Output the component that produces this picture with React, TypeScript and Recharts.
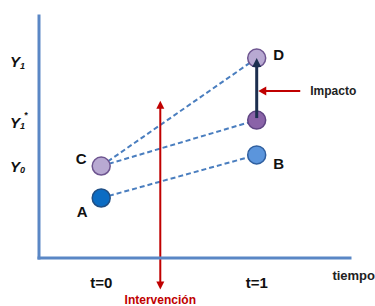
import React from 'react';
import {
    ComposedChart,
    Line,
    Scatter,
    XAxis,
    YAxis,
    ReferenceLine,
    Label
} from 'recharts';

// puntos: A, B (grupo de control), C, Y1* (contrafactual), D (tratados)
const pointNames = ['A', 'B', 'C', 'Y1*', 'D'];
const pointTimes = [0, 1, 0, 1, 1];
const pointValues = [24.8, 42.6, 38, 57, 82.6];
const pointLabels = ['A', 'B', 'C', '', 'D'];

// tramos discontinuos (indices de punto)
const segmentFrom = [0, 2, 2];
const segmentTo = [1, 3, 4];

const xTicks = [0, 1];
const xTickLabels = ['t=0', 't=1'];
const yTicks = [38, 56, 81];
const yTickSubs = ['0', '1', '1'];
const yTickSups = ['', '*', ''];

const interventionX = 0.38;
const interventionY = [65, -13];
const impactX = [1.28, 1.01];
const impactY = 69;

const points = pointNames.map((name, i) => ({
    name,
    label: pointLabels[i],
    x: pointTimes[i],
    y: pointValues[i]
}));

const segments = segmentFrom.map((from, i) => [points[from], points[segmentTo[i]]]);
// flecha de impacto: de Y1* a D
const effect = [points[3], points[4]];

const pointStyle: Record<string, { fill: string; stroke: string; dx: number; dy: number }> = {
    A: { fill: '#0b6cc3', stroke: '#1f4f85', dx: -19, dy: 14 },
    B: { fill: '#5b95dc', stroke: '#2f5f9f', dx: 22, dy: 9 },
    C: { fill: '#b8a9d2', stroke: '#6e5590', dx: -20, dy: -8 },
    'Y1*': { fill: '#8a63a8', stroke: '#5f4483', dx: 0, dy: 0 },
    D: { fill: '#b8a9d2', stroke: '#6e5590', dx: 22, dy: -4 }
};

const RED = '#c00000';
const NAVY = '#1c2f4f';
const AXIS = '#5a87c5';
const DASH = '#4a7ebf';

function arrowHead(x1: number, y1: number, x2: number, y2: number, len: number, half: number, color: string) {
    const a = Math.atan2(y2 - y1, x2 - x1);
    const bx = x2 - len * Math.cos(a);
    const by = y2 - len * Math.sin(a);
    const p = `${x2},${y2} ${bx + half * Math.sin(a)},${by - half * Math.cos(a)} ${bx - half * Math.sin(a)},${by + half * Math.cos(a)}`;
    return <polygon points={p} fill={color} />;
}

function shorten(x1: number, y1: number, x2: number, y2: number, d: number) {
    const l = Math.hypot(x2 - x1, y2 - y1);
    return { x: x2 - ((x2 - x1) / l) * d, y: y2 - ((y2 - y1) / l) * d };
}

const renderPoint = (props: any) => {
    const { cx, cy, payload } = props;
    const s = pointStyle[payload.name];
    return (
        <g>
            <circle cx={cx} cy={cy} r={9} fill={s.fill} stroke={s.stroke} strokeWidth={1.5} />
            {payload.label && (
                <text
                    x={cx + s.dx}
                    y={cy + s.dy}
                    textAnchor="middle"
                    dominantBaseline="central"
                    fontSize={15}
                    fontWeight="bold"
                    fill="#111"
                >
                    {payload.label}
                </text>
            )}
        </g>
    );
};

const renderXTick = (props: any) => {
    const { x, y, payload } = props;
    const i = xTicks.indexOf(payload.value);
    return (
        <text x={x} y={y + 16} textAnchor="middle" dominantBaseline="central" fontSize={15} fontWeight="bold" fill="#111">
            {xTickLabels[i]}
        </text>
    );
};

const renderYTick = (props: any) => {
    const { x, y, payload } = props;
    const i = yTicks.indexOf(payload.value);
    return (
        <text x={x - 21} y={y} dominantBaseline="central" fontSize={15} fontWeight="bold" fontStyle="italic" fill="#111">
            Y
            <tspan fontSize={9} dy={4}>{yTickSubs[i]}</tspan>
            {yTickSups[i] && <tspan fontSize={9} dx={-1} dy={-11}>{yTickSups[i]}</tspan>}
        </text>
    );
};

const interventionShape = (props: any) => {
    const { x1, y1, x2, y2 } = props;
    const a = shorten(x2, y2, x1, y1, 7);
    const b = shorten(x1, y1, x2, y2, 7);
    return (
        <g>
            <line x1={a.x} y1={a.y} x2={b.x} y2={b.y} stroke={RED} strokeWidth={2} />
            {arrowHead(x2, y2, x1, y1, 8, 4, RED)}
            {arrowHead(x1, y1, x2, y2, 8, 4, RED)}
            <text x={x1} y={304} textAnchor="middle" fontSize={12} fontWeight="bold" fill={RED}>
                Intervención
            </text>
        </g>
    );
};

const impactShape = (props: any) => {
    const { x1, y1, x2, y2 } = props;
    const b = shorten(x1, y1, x2, y2, 7);
    return (
        <g>
            <line x1={x1} y1={y1} x2={b.x} y2={b.y} stroke={RED} strokeWidth={2} />
            {arrowHead(x1, y1, x2, y2, 8, 4.5, RED)}
            <text x={x1 + 10} y={y1} dominantBaseline="central" fontSize={12} fontWeight="bold" fill="#222">
                Impacto
            </text>
        </g>
    );
};

// linea de la Scatter "effect": flecha oscura de Y1* a D, dibujada sobre los puntos
const effectLine = (props: any) => {
    const pts = props.points;
    if (!pts || pts.length < 2) return <g />;
    const x1 = pts[0].cx ?? pts[0].x;
    const y1 = (pts[0].cy ?? pts[0].y) - 2;
    const x2 = pts[1].cx ?? pts[1].x;
    const y2 = pts[1].cy ?? pts[1].y;
    const b = shorten(x1, y1, x2, y2, 8);
    return (
        <g>
            <line x1={x1} y1={y1} x2={b.x} y2={b.y} stroke={NAVY} strokeWidth={3} />
            {arrowHead(x1, y1, x2, y2, 9, 4.5, NAVY)}
        </g>
    );
};

export default function App() {
    return (
        <div style={{ position: 'absolute', left: 0, top: 0, width: 375, height: 306, background: '#fff', fontFamily: '"Liberation Sans", Arial, sans-serif' }}>
            <ComposedChart width={375} height={306} margin={{ top: 16, right: 25, left: 0, bottom: 18 }}>
                <XAxis
                    type="number"
                    dataKey="x"
                    domain={[-0.4, 1.6]}
                    ticks={xTicks}
                    allowDataOverflow
                    height={30}
                    tickLine={false}
                    axisLine={{ stroke: AXIS, strokeWidth: 3, strokeLinecap: 'square' }}
                    tick={renderXTick}
                >
                    <Label
                        content={(p: any) => {
                            const vb = p.viewBox;
                            return (
                                <text x={vb.x + vb.width + 25} y={vb.y + 17} textAnchor="end" dominantBaseline="central" fontSize={13} fontWeight="bold" fill="#222">
                                    tiempo
                                </text>
                            );
                        }}
                    />
                </XAxis>
                <YAxis
                    type="number"
                    dataKey="y"
                    domain={[0, 100]}
                    ticks={yTicks}
                    width={39}
                    tickLine={false}
                    axisLine={{ stroke: AXIS, strokeWidth: 3, strokeLinecap: 'square' }}
                    tick={renderYTick}
                />
                {segments.map((seg, i) => (
                    <Line
                        key={i}
                        data={seg}
                        dataKey="y"
                        type="linear"
                        stroke={DASH}
                        strokeWidth={2}
                        strokeDasharray="5 3"
                        dot={false}
                        activeDot={false}
                        isAnimationActive={false}
                    />
                ))}
                <ReferenceLine
                    segment={[{ x: interventionX, y: interventionY[0] }, { x: interventionX, y: interventionY[1] }]}
                    ifOverflow="visible"
                    shape={interventionShape}
                />
                <Scatter data={points} shape={renderPoint} isAnimationActive={false} />
                <Scatter data={effect} line={effectLine} shape={() => <g />} isAnimationActive={false} />
                <ReferenceLine
                    segment={[{ x: impactX[0], y: impactY }, { x: impactX[1], y: impactY }]}
                    ifOverflow="visible"
                    shape={impactShape}
                />
            </ComposedChart>
        </div>
    );
}
